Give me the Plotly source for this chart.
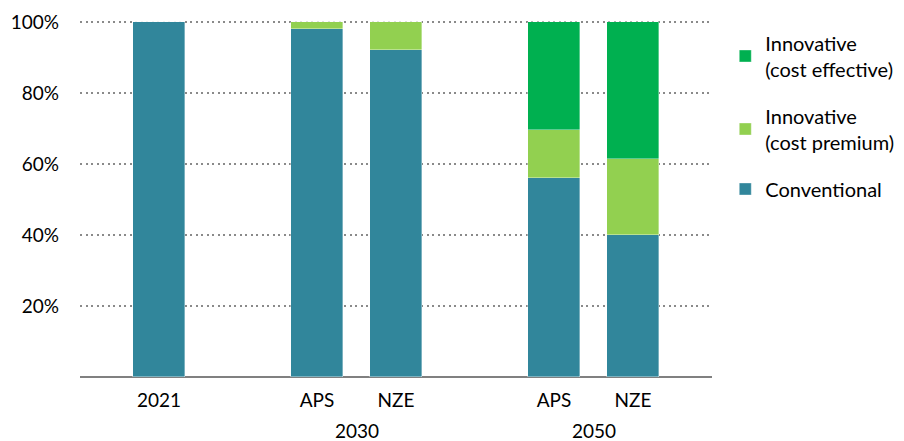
import plotly.graph_objects as go

# ---- data ----
bar_labels = ["2021", "APS", "NZE", "APS", "NZE"]
bar_positions = [0, 2, 3, 5, 6]
group_labels = ["2030", "2050"]
group_centers = [2.5, 5.5]
conventional = [100.0, 98.2, 92.3, 56.0, 40.0]
cost_premium = [0.0, 1.8, 7.7, 13.6, 21.4]
cost_effective = [0.0, 0.0, 0.0, 30.4, 38.6]
y_ticks = [20, 40, 60, 80, 100]
y_tick_text = ["20%", "40%", "60%", "80%", "100%"]

FONT = "Lato"
series = [
    ("Conventional", conventional, "#31869B", 3),
    ("Innovative<br>(cost premium)", cost_premium, "#92D050", 2),
    ("Innovative<br>(cost effective)", cost_effective, "#00B050", 1),
]

fig = go.Figure()
for i, (name, vals, col, rank) in enumerate(series):
    fig.add_trace(go.Bar(
        x=bar_positions, y=vals, name=name, legendgroup=f"g{i}", legendrank=rank,
        marker=dict(color=col, line=dict(color="rgba(255,255,255,0.6)", width=0.6)),
        width=0.66,
    ))

for lab, cx in zip(group_labels, group_centers):
    fig.add_annotation(x=cx, y=-0.151, xref="x", yref="paper", text=lab,
                       showarrow=False, yanchor="middle",
                       font=dict(family=FONT, size=19, color="#000000"))

# page body has an 8px default margin; figure is sized to compensate
fig.update_layout(
    barmode="stack",
    width=896, height=433,
    margin=dict(l=72, r=192, t=13, b=64, autoexpand=False),
    paper_bgcolor="white", plot_bgcolor="white",
    font=dict(family=FONT, size=19, color="#000000"),
    bargap=0,
    legend=dict(
        x=1.021, xanchor="left", y=0.993, yanchor="top",
        traceorder="grouped", tracegroupgap=18,
        font=dict(family=FONT, size=20, color="#000000"),
        itemclick=False, itemdoubleclick=False,
    ),
    xaxis=dict(
        range=[-1, 7], tickmode="array", tickvals=bar_positions, ticktext=bar_labels,
        showgrid=False, zeroline=False, showline=False, ticks="",
        ticklabelstandoff=10, automargin=False,
        tickfont=dict(family=FONT, size=19),
    ),
    yaxis=dict(
        range=[0, 100.4], tickmode="array", tickvals=y_ticks, ticktext=y_tick_text,
        showgrid=True, gridcolor="#8a8a8a", griddash="2px,3.5px", gridwidth=2,
        zeroline=True, zerolinecolor="#808080", zerolinewidth=2,
        showline=False, ticks="", ticklabelstandoff=20, automargin=False,
        tickfont=dict(family=FONT, size=19),
    ),
)

fig.write_html("out.html")
